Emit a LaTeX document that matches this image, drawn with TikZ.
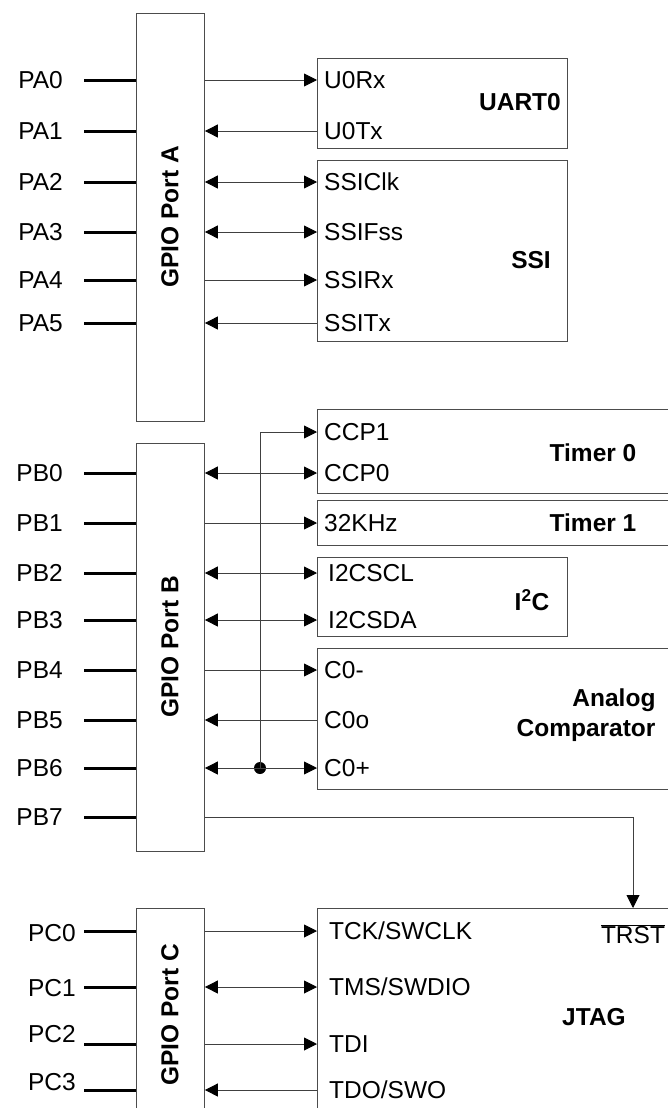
\documentclass[tikz,border=0pt]{standalone}
\usepackage{fontspec}
\setmainfont{Liberation Sans}
\usetikzlibrary{arrows.meta}
\usetikzlibrary{positioning}

\newcommand{\pinfont}{\fontsize{24.5}{30}\selectfont}

\tikzset{
  blk/.style={draw=black!70,line width=0.9pt,anchor=north west,inner sep=0pt},
  pinlbl/.style={anchor=east,inner sep=0pt,text height=17.5pt,text depth=0pt},
  siglbl/.style={anchor=west,inner xsep=7pt,inner ysep=0pt,text height=17.5pt,text depth=0pt},
  stub/.style={line width=3pt},
  sig/.style={draw=black!75,line width=0.9pt,>={Triangle[length=13pt,width=13pt,black]}},
  ttl/.style={font=\pinfont\bfseries},
  dot/.style={circle,fill=black,inner sep=0pt,minimum size=12pt}
}

\begin{document}
\begin{tikzpicture}[x=1pt,y=-1pt,font=\pinfont]
\clip (0,0) rectangle (668,1108);

% GPIO ports
\node[blk,minimum width=68pt,minimum height=408pt] (portA) at (136,13) {};
\node[blk,minimum width=68pt,minimum height=408pt] (portB) at (136,443) {};
\node[blk,minimum width=68pt,minimum height=230pt] (portC) at (136,908) {};
\node[ttl,rotate=90] (portAlbl) at (170,217) {GPIO Port A};
\node[ttl,rotate=90] (portBlbl) at (170,647) {GPIO Port B};
\node[ttl,rotate=90] (portClbl) at (170,1015) {GPIO Port C};

% peripherals
\node[blk,minimum width=250pt,minimum height=90pt] (uart) at (317,58) {};
\node[blk,minimum width=250pt,minimum height=181pt] (ssi) at (317,160) {};
\node[blk,minimum width=390pt,minimum height=84pt] (tmr0) at (317,409) {};
\node[blk,minimum width=390pt,minimum height=45pt] (tmr1) at (317,500) {};
\node[blk,minimum width=250pt,minimum height=79pt] (iic) at (317,557) {};
\node[blk,minimum width=390pt,minimum height=141pt] (acmp) at (317,648) {};
\node[blk,minimum width=390pt,minimum height=230pt] (jtag) at (317,908) {};

\node[ttl] (uartlbl) at (520,102) {UART0};
\node[ttl] (ssilbl) at (531,260) {SSI};
\node[ttl] (tmr0lbl) at (593,453) {Timer 0};
\node[ttl] (tmr1lbl) at (593,523) {Timer 1};
\node[ttl] (iiclbl) at (532,600) {I\textsuperscript{2}C};
\node[ttl,align=right,anchor=east] (acmplbl) at (659,715) {Analog\\Comparator};
\node[ttl] (jtaglbl) at (594,1017) {JTAG};

% port A pins
\node[pinlbl] (pa0) at (63,80) {PA0};
\node[pinlbl] (pa1) at (63,131) {PA1};
\node[pinlbl] (pa2) at (63,182) {PA2};
\node[pinlbl] (pa3) at (63,232) {PA3};
\node[pinlbl] (pa4) at (63,280) {PA4};
\node[pinlbl] (pa5) at (63,323) {PA5};
\draw[stub] ([xshift=21pt]pa0.east) -- (portA.west |- pa0.east);
\draw[stub] ([xshift=21pt]pa1.east) -- (portA.west |- pa1.east);
\draw[stub] ([xshift=21pt]pa2.east) -- (portA.west |- pa2.east);
\draw[stub] ([xshift=21pt]pa3.east) -- (portA.west |- pa3.east);
\draw[stub] ([xshift=21pt]pa4.east) -- (portA.west |- pa4.east);
\draw[stub] ([xshift=21pt]pa5.east) -- (portA.west |- pa5.east);

\node[siglbl] (u0rx) at (317,80) {U0Rx};
\node[siglbl] (u0tx) at (317,131) {U0Tx};
\node[siglbl] (ssiclk) at (317,182) {SSIClk};
\node[siglbl] (ssifss) at (317,232) {SSIFss};
\node[siglbl] (ssirx) at (317,280) {SSIRx};
\node[siglbl] (ssitx) at (317,323) {SSITx};
\draw[sig,->] (portA.east |- u0rx.west) -- (u0rx.west);
\draw[sig,<-] (portA.east |- u0tx.west) -- (u0tx.west);
\draw[sig,<->] (portA.east |- ssiclk.west) -- (ssiclk.west);
\draw[sig,<->] (portA.east |- ssifss.west) -- (ssifss.west);
\draw[sig,->] (portA.east |- ssirx.west) -- (ssirx.west);
\draw[sig,<-] (portA.east |- ssitx.west) -- (ssitx.west);

% port B pins
\node[pinlbl] (pb0) at (63,473) {PB0};
\node[pinlbl] (pb1) at (63,523) {PB1};
\node[pinlbl] (pb2) at (63,573) {PB2};
\node[pinlbl] (pb3) at (63,620) {PB3};
\node[pinlbl] (pb4) at (63,670) {PB4};
\node[pinlbl] (pb5) at (63,720) {PB5};
\node[pinlbl] (pb6) at (63,768) {PB6};
\node[pinlbl] (pb7) at (63,817) {PB7};
\draw[stub] ([xshift=21pt]pb0.east) -- (portB.west |- pb0.east);
\draw[stub] ([xshift=21pt]pb1.east) -- (portB.west |- pb1.east);
\draw[stub] ([xshift=21pt]pb2.east) -- (portB.west |- pb2.east);
\draw[stub] ([xshift=21pt]pb3.east) -- (portB.west |- pb3.east);
\draw[stub] ([xshift=21pt]pb4.east) -- (portB.west |- pb4.east);
\draw[stub] ([xshift=21pt]pb5.east) -- (portB.west |- pb5.east);
\draw[stub] ([xshift=21pt]pb6.east) -- (portB.west |- pb6.east);
\draw[stub] ([xshift=21pt]pb7.east) -- (portB.west |- pb7.east);

\node[siglbl] (ccp1) at (317,432) {CCP1};
\node[siglbl] (ccp0) at (317,473) {CCP0};
\node[siglbl] (khz) at (317,523) {32KHz};
\node[siglbl,inner xsep=11pt] (scl) at (317,573) {I2CSCL};
\node[siglbl,inner xsep=11pt] (sda) at (317,620) {I2CSDA};
\node[siglbl] (cminus) at (317,670) {C0-};
\node[siglbl] (cout) at (317,720) {C0o};
\node[siglbl] (cplus) at (317,768) {C0+};
\node[dot] (junc) at (260,768) {};
\draw[sig,<->] (portB.east |- ccp0.west) -- (ccp0.west);
\draw[sig,->] (portB.east |- khz.west) -- (khz.west);
\draw[sig,<->] (portB.east |- scl.west) -- (scl.west);
\draw[sig,<->] (portB.east |- sda.west) -- (sda.west);
\draw[sig,->] (portB.east |- cminus.west) -- (cminus.west);
\draw[sig,<-] (portB.east |- cout.west) -- (cout.west);
\draw[sig,<->] (portB.east |- cplus.west) -- (cplus.west);
\draw[sig,->] (junc.center) |- (ccp1.west);

% reset line to JTAG
\node (trst) at (633,934) {$\overline{\mbox{TRST}}$};
\draw[sig,->] (portB.east |- pb7.east) -| (trst.north |- jtag.north);

% port C pins
\node[pinlbl] (pc0) at (76,933) {PC0};
\node[pinlbl] (pc1) at (76,988) {PC1};
\node[pinlbl] (pc2) at (76,1034) {PC2};
\node[pinlbl] (pc3) at (76,1082) {PC3};

\node[siglbl,inner xsep=12pt] (tck) at (317,931) {TCK/SWCLK};
\node[siglbl,inner xsep=12pt] (tms) at (317,987) {TMS/SWDIO};
\node[siglbl,inner xsep=12pt] (tdi) at (317,1044) {TDI};
\node[siglbl,inner xsep=12pt] (tdo) at (317,1090) {TDO/SWO};
\draw[stub] ([xshift=8pt]pc0.east |- tck.west) -- (portC.west |- tck.west);
\draw[stub] ([xshift=8pt]pc1.east |- tms.west) -- (portC.west |- tms.west);
\draw[stub] ([xshift=8pt]pc2.east |- tdi.west) -- (portC.west |- tdi.west);
\draw[stub] ([xshift=8pt]pc3.east |- tdo.west) -- (portC.west |- tdo.west);
\draw[sig,->] (portC.east |- tck.west) -- (tck.west);
\draw[sig,<->] (portC.east |- tms.west) -- (tms.west);
\draw[sig,->] (portC.east |- tdi.west) -- (tdi.west);
\draw[sig,<-] (portC.east |- tdo.west) -- (tdo.west);

\end{tikzpicture}
\end{document}
